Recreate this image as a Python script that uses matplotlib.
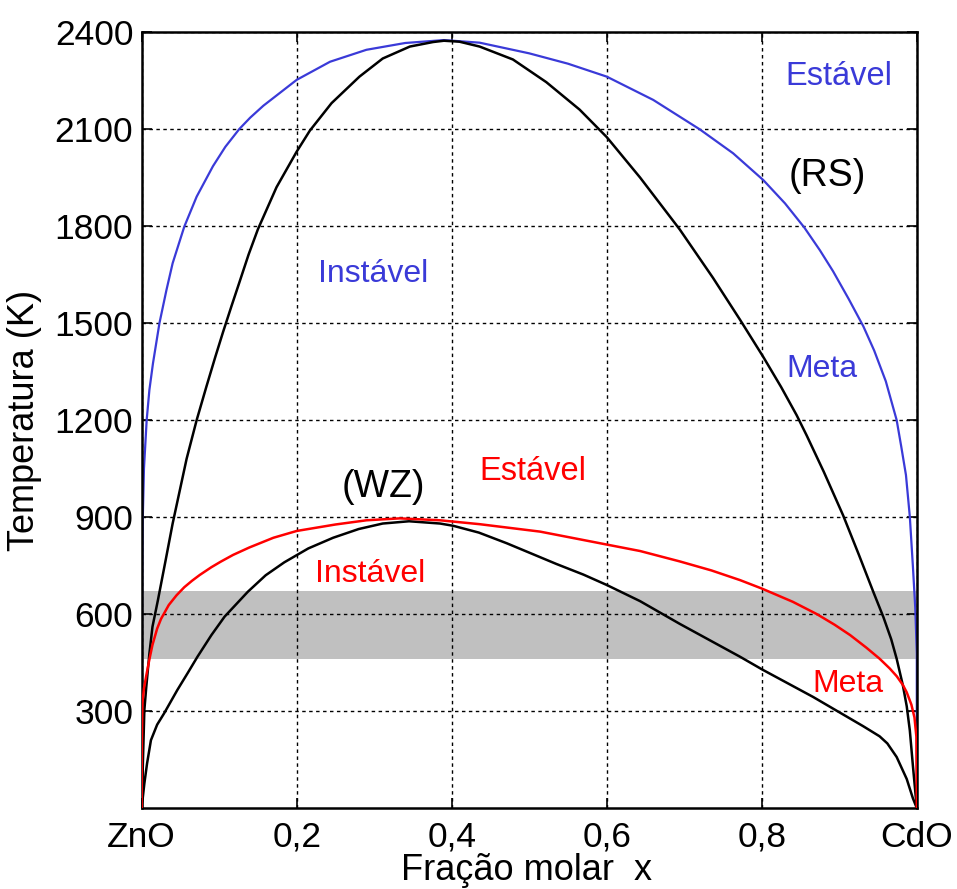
import matplotlib
matplotlib.use("Agg")
import matplotlib.pyplot as plt

plt.rcParams['font.family'] = ['Liberation Sans', 'DejaVu Sans']

# RS binodal (blue)
rs_bin_x = [0.0, 0.0002, 0.0007, 0.0015, 0.003, 0.0065, 0.010, 0.0146, 0.023, 0.032, 0.040,
            0.055, 0.071, 0.092, 0.108, 0.126, 0.14, 0.157, 0.2, 0.243, 0.29, 0.34, 0.39,
            0.436, 0.5, 0.55, 0.6, 0.66, 0.72, 0.763, 0.802, 0.83, 0.855, 0.875, 0.892,
            0.912, 0.931, 0.945, 0.96, 0.974, 0.980, 0.986, 0.991, 0.995, 0.998, 1.0, 1.0]
rs_bin_T = [0, 400, 700, 900, 1050, 1200, 1293, 1375, 1500, 1602, 1685,
            1798, 1891, 1985, 2045, 2100, 2135, 2172, 2252, 2308, 2345, 2366, 2375,
            2367, 2334, 2302, 2262, 2190, 2099, 2025, 1942, 1870, 1795, 1725, 1660,
            1575, 1490, 1415, 1320, 1200, 1117, 1030, 901, 746, 620, 480, 0]

# RS spinodal (black)
rs_spi_x = [0.0, 0.0035, 0.006, 0.010, 0.014, 0.021, 0.031, 0.04, 0.058, 0.071, 0.0835, 0.095,
            0.105, 0.116, 0.126, 0.138, 0.15, 0.174, 0.2, 0.217, 0.245, 0.281, 0.311, 0.346,
            0.376, 0.39, 0.41, 0.436, 0.479, 0.522, 0.565, 0.6, 0.643, 0.694, 0.737, 0.772,
            0.802, 0.825, 0.845, 0.858, 0.88, 0.905, 0.925, 0.944, 0.957, 0.967, 0.974, 0.982,
            0.987, 0.991, 0.995, 1.0]
rs_spi_T = [0, 303, 375, 478, 561, 643, 767, 880, 1080, 1200, 1303, 1395,
            1472, 1553, 1625, 1712, 1790, 1920, 2030, 2095, 2180, 2262, 2318, 2355,
            2369, 2373, 2370, 2355, 2315, 2245, 2160, 2075, 1950, 1790, 1640, 1510,
            1395, 1302, 1215, 1152, 1040, 905, 785, 668, 590, 522, 462, 380,
            315, 240, 130, 0]

# WZ binodal (red)
wz_bin_x = [0.0, 0.0003, 0.001, 0.003, 0.006, 0.010, 0.014, 0.02, 0.025, 0.035, 0.045, 0.055,
            0.065, 0.075, 0.09, 0.102, 0.118, 0.139, 0.17, 0.2, 0.25, 0.29, 0.333, 0.385,
            0.436, 0.514, 0.6, 0.643, 0.694, 0.735, 0.772, 0.8, 0.84, 0.871, 0.894, 0.914,
            0.935, 0.952, 0.965, 0.974, 0.982, 0.987, 0.993, 0.997, 0.9995, 1.0]
wz_bin_T = [0, 200, 325, 370, 410, 460, 505, 555, 585, 628, 658, 683,
            703, 721, 745, 762, 783, 806, 836, 857, 877, 890, 896, 890,
            878, 855, 815, 795, 763, 735, 705, 679, 638, 600, 567, 535,
            496, 462, 432, 408, 381, 358, 320, 280, 220, 0]

# WZ spinodal (black)
wz_spi_x = [0.0, 0.0035, 0.007, 0.012, 0.02, 0.029, 0.046, 0.06, 0.072, 0.09, 0.107, 0.137,
            0.16, 0.184, 0.215, 0.247, 0.28, 0.311, 0.345, 0.385, 0.402, 0.435, 0.471, 0.5,
            0.535, 0.57, 0.6, 0.643, 0.694, 0.772, 0.801, 0.866, 0.931, 0.952, 0.962, 0.974,
            0.987, 0.995, 1.0]
wz_spi_T = [0, 76, 138, 210, 258, 293, 365, 420, 468, 535, 592, 669,
            720, 760, 803, 836, 863, 880, 887, 880, 873, 852, 819, 790,
            755, 722, 690, 640, 570, 468, 428, 344, 253, 222, 200, 158,
            90, 30, 0]

band = (460, 670)
x_ticks = [0, 0.2, 0.4, 0.6, 0.8, 1.0]
x_labels = ['ZnO', '0,2', '0,4', '0,6', '0,8', 'CdO']
y_ticks = [300, 600, 900, 1200, 1500, 1800, 2100, 2400]

blue = '#3a3ad8'
red = '#ff0000'

fig = plt.figure(figsize=(9.57, 8.89), dpi=100)
ax = fig.add_axes([0.148, 0.091, 0.81, 0.873])

ax.axhspan(band[0], band[1], color='#c0c0c0', lw=0, zorder=1)
ax.plot(rs_bin_x, rs_bin_T, color=blue, lw=1.6, zorder=2)
ax.plot(rs_spi_x, rs_spi_T, color='black', lw=1.8, zorder=3)
ax.plot(wz_spi_x, wz_spi_T, color='black', lw=1.8, zorder=3)
ax.plot(wz_bin_x, wz_bin_T, color=red, lw=1.8, zorder=4)

ax.set_xlim(0, 1)
ax.set_ylim(0, 2400)
ax.set_xticks(x_ticks)
ax.set_xticklabels(x_labels)
ax.set_yticks(y_ticks)
ax.tick_params(direction='in', length=7, width=1.2, labelsize=25.5, top=True, right=True)
ax.tick_params(axis='x', pad=9)
ax.tick_params(axis='y', pad=6)
ax.grid(True, color='black', linestyle=(0, (2.5, 2.5)), linewidth=1.0, zorder=1.5)
for s in ax.spines.values():
    s.set_linewidth(1.8)

ax.set_xlabel('Fração molar  x', fontsize=26)
ax.set_ylabel('Temperatura (K)', fontsize=26)
ax.xaxis.set_label_coords(0.497, -0.058)
ax.yaxis.set_label_coords(-0.128, 0.5)

# region labels
ax.text(0.899, 2262, 'Estável', color=blue, fontsize=23.5, ha='center', va='center')
ax.text(0.885, 1955, '(RS)', color='black', fontsize=27, ha='center', va='center')
ax.text(0.877, 1358, 'Meta', color=blue, fontsize=23, ha='center', va='center')
ax.text(0.298, 1653, 'Instável', color=blue, fontsize=23, ha='center', va='center')
ax.text(0.312, 993, '(WZ)', color='black', fontsize=27, ha='center', va='center')
ax.text(0.505, 1040, 'Estável', color=red, fontsize=23.5, ha='center', va='center')
ax.text(0.295, 725, 'Instável', color=red, fontsize=23, ha='center', va='center')
ax.text(0.911, 385, 'Meta', color=red, fontsize=23, ha='center', va='center')

fig.savefig('out.png', dpi=100)
